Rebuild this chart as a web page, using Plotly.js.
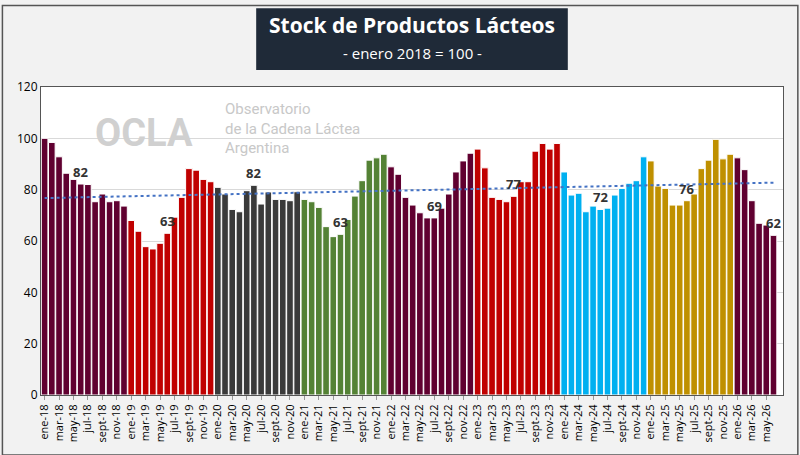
<!DOCTYPE html>
<html>
<head>
<meta charset="utf-8">
<script src="https://cdn.plot.ly/plotly-3.0.1.min.js"></script>
<style>body{margin:0;background:#f2f2f2;} #plot{width:800px;height:455px;}</style>
</head>
<body>
<div id="plot"></div>
<script>
// month names and years
var months = ["ene","feb","mar","abr","may","jun","jul","ago","sept","oct","nov","dic"];
var years = [18,19,20,21,22,23,24,25,26];
var yearColors = ["#600030","#c00000","#3a3a3a","#548235","#600030","#c00000","#00b0f0","#bf9000","#600030"];

// index values, one array per year
var v2018 = [100,98.4,92.8,86.4,84,82.2,82,75.3,78.3,75.3,75.7,73.6];
var v2019 = [68,63.8,57.8,56.9,59.1,63,69.3,77,88.2,87.6,84,83.1];
var v2020 = [80.9,78.3,72.3,71.4,79.6,81.7,74.4,79.1,76.2,76.2,75.7,79.2];
var v2021 = [76.2,75.3,73.1,65.6,61.7,62.6,68.4,77.5,83.5,91.5,92.4,93.8];
var v2022 = [88.9,86,77,74,71,69,69,72.8,78.3,86.9,91.2,94.2];
var v2023 = [95.8,88.5,77,76.2,75.3,77.4,83.1,83.1,95,98,95.8,98];
var v2024 = [86.9,77.9,78.6,71.4,73.6,72.3,72.8,77.9,80.5,82.5,83.5,92.8];
var v2025 = [91.2,81.4,80.5,74,74,75.7,78.3,88.2,91.5,99.6,92,93.8];
var v2026 = [92.4,87.8,75.7,66.9,66.2,62.2];

// bars that get a value label
var labelIdx = [5,17,29,41,54,65,77,89,101];

var series = [v2018,v2019,v2020,v2021,v2022,v2023,v2024,v2025,v2026];
var cats = [], vals = [], cols = [];
series.forEach(function(s, yi){
  s.forEach(function(v, mi){
    cats.push(months[mi] + "-" + years[yi]);
    vals.push(v);
    cols.push(yearColors[yi]);
  });
});

// linear trend
var n = vals.length, sx=0, sy=0, sxy=0, sxx=0;
vals.forEach(function(v,i){ sx+=i; sy+=v; sxy+=i*v; sxx+=i*i; });
var b = (n*sxy - sx*sy)/(n*sxx - sx*sx), a = (sy - b*sx)/n;
var trend = vals.map(function(v,i){ return a + b*i; });

var bars = {
  x: cats, y: vals, type: "bar",
  marker: {color: cols, line: {color: "#ffffff", width: 1}},
  hoverinfo: "x+y"
};
var trendLine = {
  x: cats, y: trend, type: "scatter", mode: "lines",
  line: {color: "#4472c4", width: 2, dash: "dot"}, hoverinfo: "skip"
};

var annotations = labelIdx.map(function(i){
  return {x: cats[i], y: vals[i], text: String(Math.round(vals[i])), showarrow: false,
    yshift: 12, font: {family: "Open Sans", size: 13, color: "#333", weight: "bold"}};
});
annotations.push(
  {xref:"paper", yref:"paper", x:0.5, y:1.2, yanchor:"middle", text:"<b>Stock de Productos Lácteos</b>", showarrow:false,
   font:{family:"Open Sans", size:21, color:"#fff"}},
  {xref:"paper", yref:"paper", x:0.5, y:1.11, yanchor:"middle", text:"- enero 2018 = 100 -", showarrow:false,
   font:{family:"Open Sans", size:15, color:"#fff"}},
  {xref:"paper", yref:"paper", x:0.07, y:0.93, xanchor:"left", text:"<b>OCLA</b>", showarrow:false,
   font:{family:"Roboto", size:38, color:"#d0d0d0"}},
  {xref:"paper", yref:"paper", x:0.245, y:0.965, xanchor:"left", yanchor:"top", align:"left",
   text:"Observatorio<br>de la Cadena Láctea<br>Argentina", showarrow:false,
   font:{family:"Roboto", size:15, color:"#c8c8c8"}}
);

var tickvals = cats.filter(function(c,i){ return i%2===0; });

var layout = {
  width: 800, height: 455,
  paper_bgcolor: "#f2f2f2", plot_bgcolor: "#ffffff",
  margin: {l: 41, r: 17, t: 87, b: 60},
  showlegend: false, bargap: 0.08,
  font: {family: "Open Sans", color: "#000"},
  xaxis: {type: "category", tickvals: tickvals, tickangle: -90, tickfont: {size: 11},
    showline: true, linecolor: "#555", mirror: true, ticks: "outside", ticklen: 4, tickcolor: "#999"},
  yaxis: {range: [0, 120], dtick: 20, gridcolor: "#d9d9d9", tickfont: {size: 12},
    showline: true, linecolor: "#555", mirror: true, zeroline: false},
  annotations: annotations,
  shapes: [
    {type:"rect", xref:"paper", yref:"paper", x0:0.29, x1:0.71, y0:1.055, y1:1.256,
     fillcolor:"#1f2a38", line:{width:0}, layer:"below"},
    {type:"rect", xref:"paper", yref:"paper", x0:-0.052, x1:1.02, y0:-0.195, y1:1.265,
     line:{color:"#555", width:1.5}, layer:"below"}
  ]
};
Plotly.newPlot("plot", [bars, trendLine], layout, {displayModeBar: false});
</script>
</body>
</html>
